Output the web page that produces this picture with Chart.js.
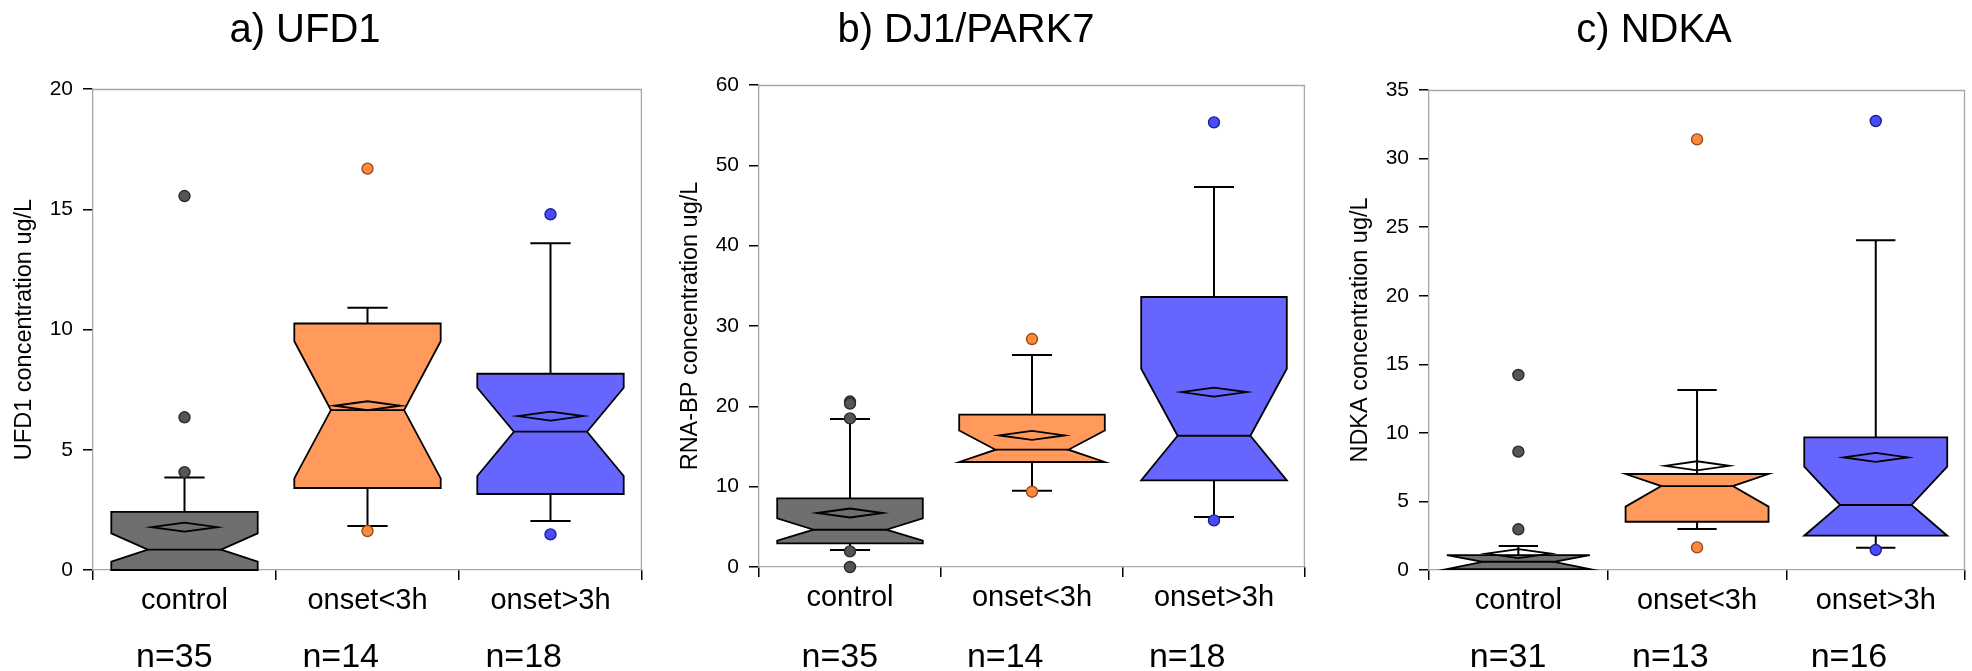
<!DOCTYPE html>
<html><head><meta charset="utf-8">
<script src="https://cdn.jsdelivr.net/npm/chart.js@4.4.1/dist/chart.umd.min.js"></script>
<style>
html,body{margin:0;padding:0;background:#fff;width:1972px;height:671px;overflow:hidden;position:relative}
canvas{position:absolute;top:0}
</style></head>
<body>
<canvas id="cA" width="650" height="671" style="left:0px"></canvas>
<canvas id="cB" width="646" height="671" style="left:666px"></canvas>
<canvas id="cC" width="636" height="671" style="left:1336px"></canvas>
<script>
// ---------- data ----------
const categories = ['control', 'onset<3h', 'onset>3h'];

// a) UFD1
const ufd1Ticks = [0, 5, 10, 15, 20];
const ufd1N = [35, 14, 18];
const ufd1Q1 = [0.0, 3.41, 3.16];
const ufd1Median = [0.85, 6.65, 5.75];
const ufd1Q3 = [2.42, 10.25, 8.16];
const ufd1NotchLo = [0.35, 3.81, 3.91];
const ufd1NotchHi = [1.52, 9.51, 7.58];
const ufd1WhiskerLo = [0.0, 1.83, 2.04];
const ufd1WhiskerHi = [3.85, 10.9, 13.59];
const ufd1Mean = [1.78, 6.83, 6.4];
const ufd1Outliers = [[15.55, 6.35, 4.07], [16.69, 1.62], [14.79, 1.48]];

// b) DJ1/PARK7
const dj1Ticks = [0, 10, 20, 30, 40, 50, 60];
const dj1N = [35, 14, 18];
const dj1Q1 = [2.94, 13.07, 10.78];
const dj1Median = [4.64, 14.6, 16.34];
const dj1Q3 = [8.54, 18.96, 33.61];
const dj1NotchLo = [3.27, 13.07, 10.78];
const dj1NotchHi = [6.05, 17.0, 24.69];
const dj1WhiskerLo = [2.11, 9.5, 6.22];
const dj1WhiskerHi = [18.42, 26.39, 47.3];
const dj1Mean = [6.72, 16.38, 21.78];
const dj1Outliers = [[20.6, 20.35, 18.5, 1.95, 0.0], [28.38, 9.37], [55.35, 5.8]];

// c) NDKA
const ndkaTicks = [0, 5, 10, 15, 20, 25, 30, 35];
const ndkaN = [31, 13, 16];
const ndkaQ1 = [0.07, 3.52, 2.5];
const ndkaMedian = [0.6, 6.12, 4.74];
const ndkaQ3 = [1.09, 7.0, 9.67];
const ndkaNotchLo = [0.07, 4.62, 2.5];
const ndkaNotchHi = [1.09, 7.0, 7.54];
const ndkaWhiskerLo = [0.0, 2.99, 1.63];
const ndkaWhiskerHi = [1.75, 13.12, 24.04];
const ndkaMean = [1.2, 7.6, 8.21];
const ndkaOutliers = [[14.22, 8.63, 2.97], [31.4, 1.65], [32.74, 1.46]];

// ---------- styles ----------
const boxFill = ['#6f6f6f', '#ff995c', '#6666ff'];
const dotFill = ['#555555', '#ff8a3d', '#4a4aff'];
const dotEdge = ['#2a2a2a', '#9a4a18', '#20208a'];
const FONT = '"Liberation Sans", Arial, Helvetica, sans-serif';
Chart.defaults.font.family = FONT;
Chart.defaults.color = '#000';

const notchBox = {
  id: 'notchBox',
  beforeDatasetsDraw(chart, args, o) {
    const p = o.panel, xs = chart.scales.x, ys = chart.scales.y, ctx = chart.ctx, a = chart.chartArea;
    const cw = xs.width / categories.length;
    const Y = v => ys.getPixelForValue(v);
    ctx.save();
    ctx.strokeStyle = '#a8a8a8'; ctx.lineWidth = 1.3;
    ctx.beginPath();
    ctx.moveTo(a.left, a.top + 0.5); ctx.lineTo(a.right - 0.6, a.top + 0.5); ctx.lineTo(a.right - 0.6, a.bottom);
    ctx.stroke();
    ctx.lineJoin = 'miter';
    p.q1.forEach((_, i) => {
      const cx = xs.getPixelForValue(i);
      const hw = cw * 0.4, nw = hw * 0.5, dw = cw * 0.18, cap = cw * 0.11;
      ctx.strokeStyle = '#000'; ctx.lineWidth = 2;
      ctx.beginPath();
      ctx.moveTo(cx, Y(p.q3[i])); ctx.lineTo(cx, Y(p.whiskerHi[i]));
      ctx.moveTo(cx - cap, Y(p.whiskerHi[i])); ctx.lineTo(cx + cap, Y(p.whiskerHi[i]));
      if (p.whiskerLo[i] < p.q1[i] - 0.1) {
        ctx.moveTo(cx, Y(p.q1[i])); ctx.lineTo(cx, Y(p.whiskerLo[i]));
        ctx.moveTo(cx - cap, Y(p.whiskerLo[i])); ctx.lineTo(cx + cap, Y(p.whiskerLo[i]));
      }
      ctx.stroke();
      ctx.beginPath();
      ctx.moveTo(cx - hw, Y(p.q3[i]));
      ctx.lineTo(cx + hw, Y(p.q3[i]));
      ctx.lineTo(cx + hw, Y(p.nHi[i]));
      ctx.lineTo(cx + nw, Y(p.med[i]));
      ctx.lineTo(cx + hw, Y(p.nLo[i]));
      ctx.lineTo(cx + hw, Y(p.q1[i]));
      ctx.lineTo(cx - hw, Y(p.q1[i]));
      ctx.lineTo(cx - hw, Y(p.nLo[i]));
      ctx.lineTo(cx - nw, Y(p.med[i]));
      ctx.lineTo(cx - hw, Y(p.nHi[i]));
      ctx.closePath();
      ctx.fillStyle = boxFill[i]; ctx.fill();
      ctx.lineWidth = 1.8; ctx.stroke();
      ctx.beginPath();
      ctx.moveTo(cx - nw, Y(p.med[i])); ctx.lineTo(cx + nw, Y(p.med[i]));
      ctx.stroke();
      const my = Y(p.mean[i]);
      ctx.beginPath();
      ctx.moveTo(cx - dw, my); ctx.lineTo(cx, my - 4.5); ctx.lineTo(cx + dw, my); ctx.lineTo(cx, my + 4.5);
      ctx.closePath();
      ctx.stroke();
    });
    ctx.restore();
  },
  afterDraw(chart, args, o) {
    const xs = chart.scales.x, ctx = chart.ctx, a = chart.chartArea;
    ctx.save();
    ctx.fillStyle = '#000';
    ctx.textBaseline = 'alphabetic';
    ctx.textAlign = 'center';
    ctx.font = '40px ' + FONT;
    ctx.fillText(o.title, a.left + o.titleDx, 42);
    ctx.textAlign = 'left';
    categories.forEach((c, i) => {
      ctx.font = '29px ' + FONT;
      const w = ctx.measureText(c).width;
      const x0 = xs.getPixelForValue(i) - w / 2 - 5;
      ctx.font = '34px ' + FONT;
      ctx.fillText('n=' + o.n[i], x0, 667);
    });
    ctx.restore();
  }
};

function makePanel(id, cfg) {
  const pts = [], bg = [], bd = [];
  cfg.outliers.forEach((arr, i) => arr.forEach(v => {
    pts.push({ x: categories[i], y: v }); bg.push(dotFill[i]); bd.push(dotEdge[i]);
  }));
  new Chart(document.getElementById(id), {
    type: 'scatter',
    data: {
      labels: categories,
      datasets: [{
        data: pts, pointRadius: 5.5, pointBorderWidth: 1.4,
        pointBackgroundColor: bg, pointBorderColor: bd, clip: false, showLine: false
      }]
    },
    options: {
      responsive: false, animation: false, devicePixelRatio: 1, events: [],
      layout: { padding: { top: cfg.top, right: cfg.right, left: 0, bottom: 0 } },
      plugins: {
        legend: { display: false }, tooltip: { enabled: false },
        notchBox: { panel: cfg.panel, title: cfg.title, titleDx: cfg.titleDx, n: cfg.n }
      },
      scales: {
        x: {
          type: 'category', labels: categories, offset: true,
          grid: { display: true, drawOnChartArea: false, drawTicks: true, tickLength: 10, color: '#000', lineWidth: 1.5, offset: true },
          border: { display: true, color: '#a8a8a8', width: 1.3 },
          ticks: { font: { size: 29 }, color: '#000', padding: 4, maxRotation: 0, autoSkip: false },
          afterFit: s => { s.height = cfg.xh; }
        },
        y: {
          type: 'linear', min: cfg.ticks[0], max: cfg.ticks[cfg.ticks.length - 1],
          afterBuildTicks: s => { s.ticks = cfg.ticks.map(v => ({ value: v })); },
          grid: { display: true, drawOnChartArea: false, drawTicks: true, tickLength: 10, color: '#000', lineWidth: 1.5 },
          border: { display: true, color: '#a8a8a8', width: 1.3 },
          ticks: { font: { size: 21 }, color: '#000', padding: 10 },
          title: { display: true, text: cfg.yTitle, font: { size: 23.5 }, color: '#000', padding: { top: 10, bottom: 0 } },
          afterFit: s => { s.width = 93; }
        }
      }
    },
    plugins: [notchBox]
  });
}

makePanel('cA', {
  title: 'a) UFD1', titleDx: 212, yTitle: 'UFD1 concentration ug/L', ticks: ufd1Ticks, n: ufd1N,
  top: 89, right: 8, xh: 101, outliers: ufd1Outliers,
  panel: { q1: ufd1Q1, med: ufd1Median, q3: ufd1Q3, nLo: ufd1NotchLo, nHi: ufd1NotchHi, whiskerLo: ufd1WhiskerLo, whiskerHi: ufd1WhiskerHi, mean: ufd1Mean }
});
makePanel('cB', {
  title: 'b) DJ1/PARK7', titleDx: 207, yTitle: 'RNA-BP concentration ug/L', ticks: dj1Ticks, n: dj1N,
  top: 85, right: 7, xh: 104, outliers: dj1Outliers,
  panel: { q1: dj1Q1, med: dj1Median, q3: dj1Q3, nLo: dj1NotchLo, nHi: dj1NotchHi, whiskerLo: dj1WhiskerLo, whiskerHi: dj1WhiskerHi, mean: dj1Mean }
});
makePanel('cC', {
  title: 'c) NDKA', titleDx: 225, yTitle: 'NDKA concentration ug/L', ticks: ndkaTicks, n: ndkaN,
  top: 90, right: 0, xh: 101, outliers: ndkaOutliers,
  panel: { q1: ndkaQ1, med: ndkaMedian, q3: ndkaQ3, nLo: ndkaNotchLo, nHi: ndkaNotchHi, whiskerLo: ndkaWhiskerLo, whiskerHi: ndkaWhiskerHi, mean: ndkaMean }
});
</script>
</body></html>
